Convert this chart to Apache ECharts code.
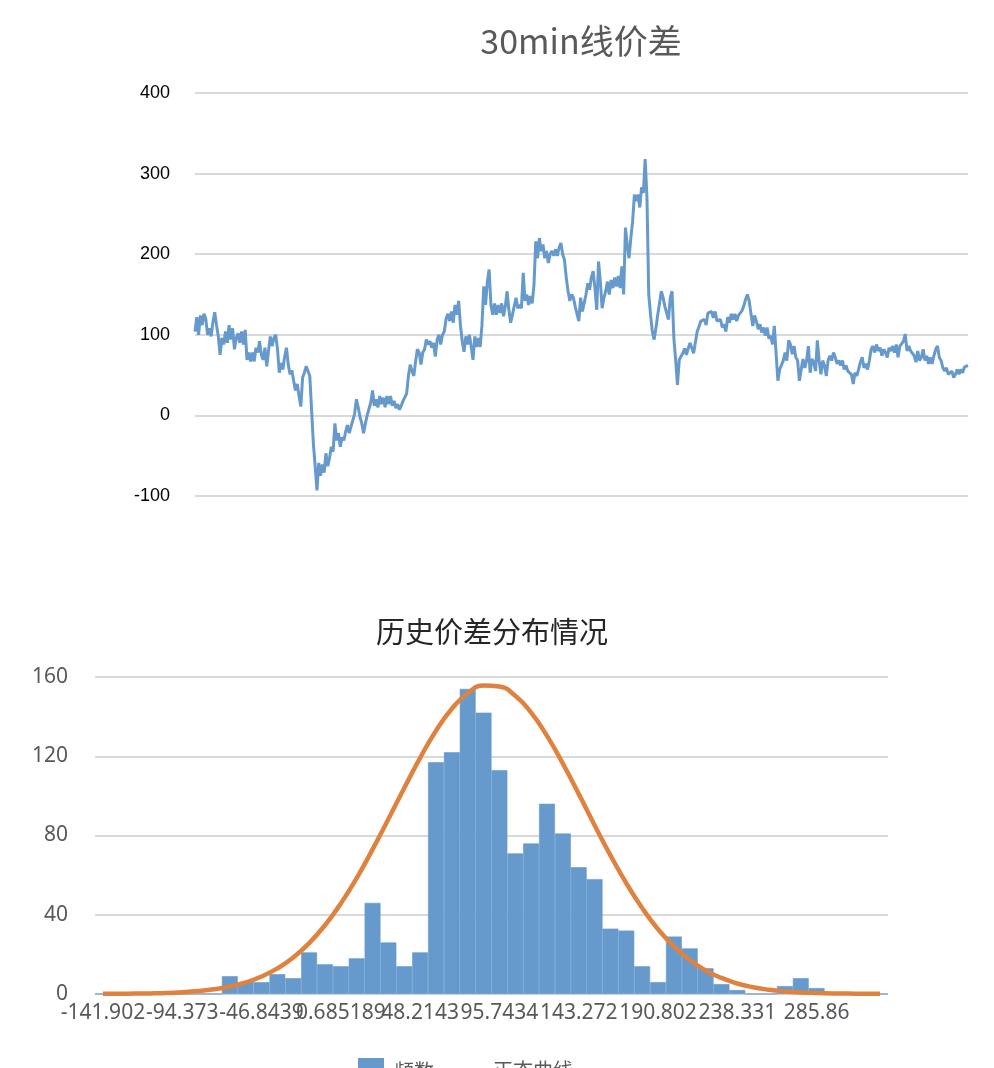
<!DOCTYPE html>
<html>
<head>
<meta charset="utf-8">
<script src="https://cdn.jsdelivr.net/npm/echarts@6/dist/echarts.min.js"></script>
<style>
  html, body { margin: 0; padding: 0; background: #fff; }
  #chart { width: 994px; height: 1068px; }
</style>
</head>
<body>
<div id="chart"></div>
<script>
// 30min spread left to right
const spreadPart1 = [104,122,100,124,112,126,120,100,108,98,116,128,112,98,75,96,88,104,90,112,94,108,82,96,102,90,104,88,106,69,78,67,78,67,84,78,92,75,69,84,61,80,98,86,96,100,82,53,65,57,73,84,63,51,56,43,31,39,24,11,47,53,61,55,49,47,-35,-63,-93,-59,-75,-61,-71,-47,-63,-53,-39,-45,-10,-31,-22,-39,-27,-31,-20,-12,-22,-14,-16,2,20,10,-2,-10,-22,-10,0,2,16,31,12,20,10,24,14,22,10,24,14,24,12,18,9,14,7,12,18,16,27,49,63,55,49,67,82,78,63,78,82,94,88,92,84,90,73,94,100,88,100,104,120,126];
const spreadPart2 = [117,129,115,137,125,142,112,92,79,98,88,100,85,69,98,85,96,85,112,160,137,166,181,137,125,139,125,137,127,139,123,135,154,131,115,125,127,146,133,137,133,177,142,150,137,148,139,162,216,195,220,204,212,195,204,189,200,204,198,206,198,208,214,200,193,171,154,142,150,146,135,133,117,146,129,131,150,164,156,171,179,158,131,191,166,133,146,154,166,150,168,158,171,160,173,158,185,150,233,212,195,220,241,274,266,274,258,283,276,318,270,150,125,104,94,108,125,139,154,146,135,133,119,146,154,96,69,38,69,67,77,83,75,83,90,88,77,79,104,110,117,115,119,112,127,125,129,121,129,117];
const spreadPart3 = [117,119,109,113,104,122,115,126,119,126,117,124,126,130,136,144,150,142,126,111,124,117,107,113,103,109,99,109,95,99,88,111,113,43,57,55,68,78,68,93,88,76,86,72,68,43,57,70,59,68,86,53,70,66,55,93,68,51,68,62,49,68,74,68,78,72,64,68,62,68,57,62,55,57,51,39,53,49,57,66,72,59,64,57,68,82,86,78,88,80,84,74,82,78,72,84,80,86,78,88,72,86,88,92,101,80,86,80,78,74,66,80,68,72,82,68,74,64,72,64,74,82,86,72,68,59,55,59,51,49,55,47,51,57,51,57,53,60,58,62];
const spreadValues = spreadPart1.concat(spreadPart2, spreadPart3);

// histogram bins (left edge of each bin)
const binLabels = ['-141.902','-132.396','-122.890','-113.384','-103.879','-94.373','-84.867','-75.361','-65.855','-56.349',
  '-46.8439','-37.338','-27.832','-18.326','-8.820','0.685189','10.191','19.697','29.203','38.709',
  '48.2143','57.720','67.226','76.732','86.238','95.7434','105.249','114.755','124.261','133.767',
  '143.272','152.778','162.284','171.790','181.296','190.802','200.307','209.813','219.319','228.825',
  '238.331','247.837','257.342','266.848','276.354','285.86','295.366','304.872','314.378','323.883'];
const freqValues = [0,0,0,0,0,0,0,0,9,6,
  6,10,8,21,15,14,18,46,26,14,
  21,117,122,154,142,113,71,76,96,81,
  64,58,33,32,14,6,29,23,13,5,
  2,0,0,4,8,3,0,0,0,0];
const normalValues = [0.1,0.1,0.2,0.3,0.5,0.9,1.5,2.4,3.8,5.8,
  8.8,12.9,18.4,25.7,34.7,45.7,58.5,73.0,88.3,104.0,
  119.2,132.9,144.0,151.8,155.7,155.2,150.5,142.0,130.3,116.3,
  101.0,85.2,70.0,55.9,43.4,32.7,24.1,17.2,11.9,8.1,
  5.3,3.4,2.1,1.3,0.8,0.5,0.3,0.2,0.1,0.1];

const chart = echarts.init(document.getElementById('chart'));

const gridLine = { show: true, lineStyle: { color: '#d9d9d9', width: 2 } };
const legendText = { color: '#595959', fontSize: 20, fontFamily: 'Noto Sans CJK SC' };
// thin line icon; the tiny corner dots keep the path box at 40x24
const lineIcon = 'path://M0,0H0.01V0.01H0Z M0,10.5H40V13.5H0Z M39.99,23.99H40V24H39.99Z';

chart.setOption({
  animation: false,
  backgroundColor: '#fff',
  title: [
    {
      text: '30min线价差',
      left: 581,
      top: 24,
      textAlign: 'center',
      padding: 0,
      textStyle: { color: '#595959', fontSize: 34, fontWeight: 'normal', fontFamily: 'Noto Sans CJK SC' }
    },
    {
      text: '历史价差分布情况',
      left: 492,
      top: 617,
      textAlign: 'center',
      padding: 0,
      textStyle: { color: '#262626', fontSize: 29, fontWeight: 'normal', fontFamily: 'Noto Sans CJK SC' }
    }
  ],
  legend: [
    {
      data: [{ name: '频数', icon: 'rect' }],
      left: 358,
      top: 1058,
      padding: 0,
      itemWidth: 24,
      itemHeight: 24,
      textStyle: Object.assign({ padding: [0, 0, 0, 6] }, legendText)
    },
    {
      data: [{ name: '正态曲线', icon: lineIcon }],
      left: 448,
      top: 1058,
      padding: 0,
      itemWidth: 40,
      itemHeight: 24,
      textStyle: legendText
    }
  ],
  grid: [
    { left: 195, right: 26, top: 93, height: 403 },
    { left: 95, right: 106, top: 677, height: 317 }
  ],
  xAxis: [
    {
      gridIndex: 0,
      type: 'category',
      boundaryGap: false,
      data: spreadValues.map((v, i) => i + 1),
      axisLine: { show: false },
      axisTick: { show: false },
      axisLabel: { show: false },
      splitLine: { show: false }
    },
    {
      gridIndex: 1,
      type: 'category',
      data: binLabels,
      axisLine: { show: false },
      axisTick: { show: false },
      axisLabel: {
        interval: 4,
        showMinLabel: true,
        hideOverlap: false,
        margin: 9,
        color: '#595959',
        fontSize: 21,
        fontFamily: 'Noto Sans'
      }
    }
  ],
  yAxis: [
    {
      gridIndex: 0,
      type: 'value',
      min: -100,
      max: 400,
      interval: 100,
      axisLine: { show: false },
      axisTick: { show: false },
      axisLabel: { color: '#000', fontSize: 18, margin: 25, fontFamily: 'Liberation Sans' },
      splitLine: gridLine
    },
    {
      gridIndex: 1,
      type: 'value',
      min: 0,
      max: 160,
      interval: 40,
      axisLine: { show: false },
      axisTick: { show: false },
      axisLabel: { color: '#595959', fontSize: 21, margin: 27, fontFamily: 'Noto Sans' },
      splitLine: gridLine
    }
  ],
  series: [
    {
      name: '30min线价差',
      type: 'line',
      xAxisIndex: 0,
      yAxisIndex: 0,
      data: spreadValues,
      symbol: 'none',
      lineStyle: { color: '#6699cc', width: 3 }
    },
    {
      name: '频数',
      type: 'bar',
      xAxisIndex: 1,
      yAxisIndex: 1,
      data: freqValues,
      barCategoryGap: '0%',
      itemStyle: { color: '#6699cc', borderColor: '#6699cc', borderWidth: 0.6 }
    },
    {
      name: '正态曲线',
      type: 'line',
      xAxisIndex: 1,
      yAxisIndex: 1,
      data: normalValues,
      symbol: 'none',
      smooth: true,
      itemStyle: { color: '#e0823f' },
      lineStyle: { color: '#e0823f', width: 4.5 }
    }
  ]
});
</script>
</body>
</html>
